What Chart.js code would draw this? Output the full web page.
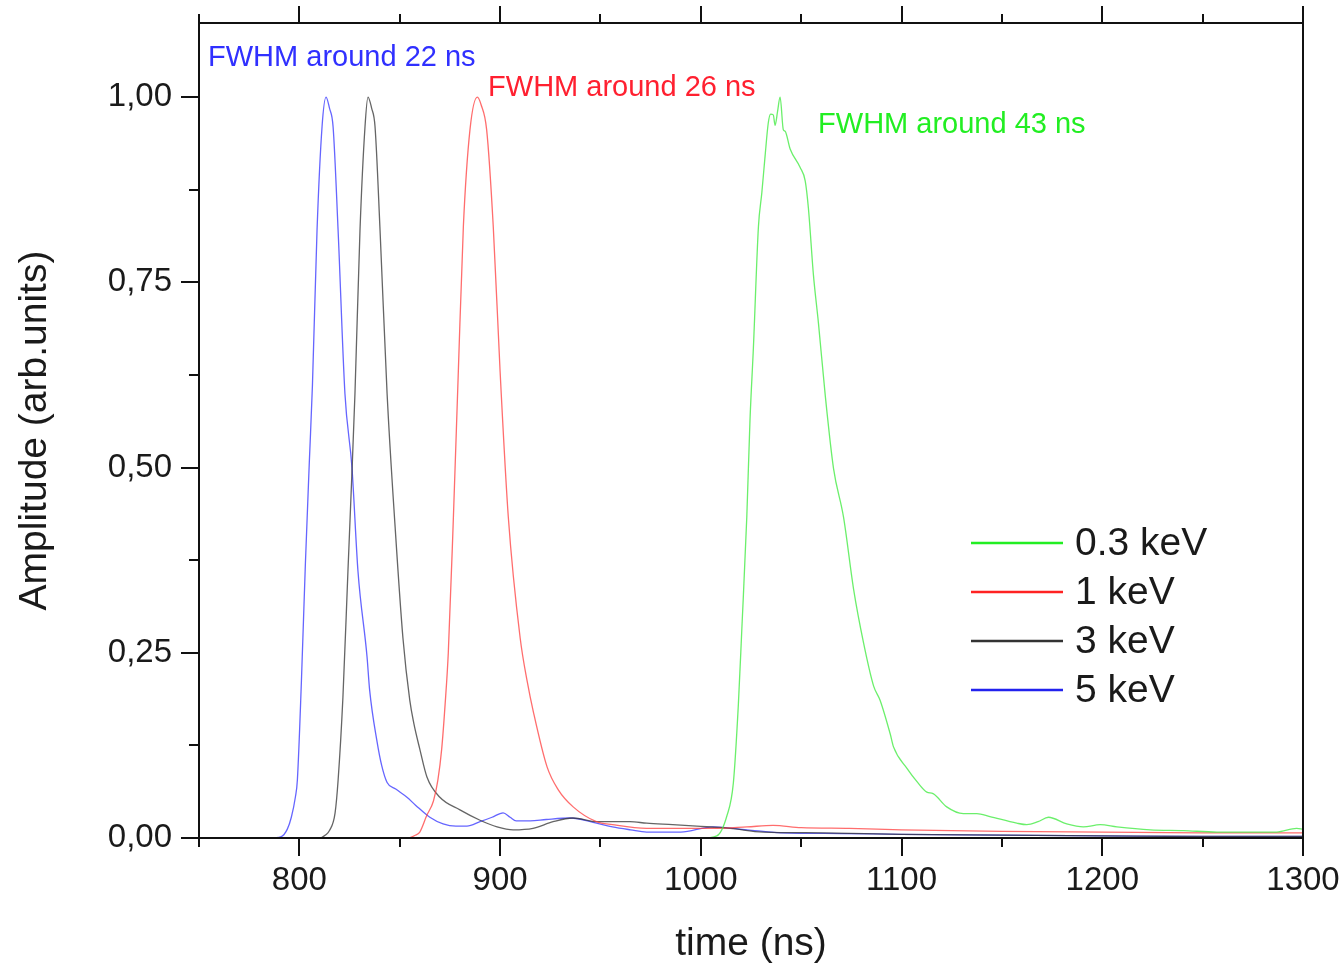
<!DOCTYPE html>
<html>
<head>
<meta charset="utf-8">
<script src="https://cdn.jsdelivr.net/npm/chart.js@4.4.1/dist/chart.umd.min.js"></script>
<style>
  body { margin: 0; background: #fff; }
</style>
</head>
<body>
<canvas id="pulseChart" width="1343" height="964"></canvas>
<script>
// series values (time in ns, amplitude normalised)
const seriesNames = ["0.3 keV", "1 keV", "3 keV", "5 keV"];

const greenTime = [750, 1000, 1008, 1013, 1016.2, 1018.7, 1020.4, 1022.9, 1024.5, 1026.2, 1028.7, 1030.4, 1032, 1033.6, 1034.8, 1036.1, 1037, 1038.2, 1039.5, 1041.1, 1042, 1044.5, 1049.5, 1052, 1053.6, 1056.1, 1058.6, 1062, 1066.1, 1071.1, 1076.1, 1081.1, 1086.1, 1089.3, 1094.4, 1096, 1102.7, 1108, 1112.6, 1115.7, 1122.5, 1130.8, 1137.5, 1144, 1157.4, 1162.4, 1168, 1173.2, 1182.3, 1190.6, 1199, 1207.3, 1223.9, 1240.4, 1257, 1273.6, 1286.9, 1296.8, 1300];
const greenAmp = [0, 0, 0.003, 0.03, 0.074, 0.18, 0.28, 0.433, 0.564, 0.662, 0.825, 0.871, 0.92, 0.965, 0.977, 0.976, 0.962, 0.98, 1.0, 0.956, 0.954, 0.93, 0.905, 0.887, 0.85, 0.76, 0.695, 0.597, 0.499, 0.433, 0.336, 0.263, 0.205, 0.186, 0.14, 0.123, 0.094, 0.075, 0.062, 0.06, 0.042, 0.033, 0.033, 0.029, 0.02, 0.018, 0.022, 0.028, 0.019, 0.015, 0.018, 0.015, 0.011, 0.01, 0.008, 0.008, 0.008, 0.013, 0.012];

const redTime = [750, 853.5, 858, 860, 863.4, 866.8, 869, 870.9, 872.6, 874.2, 876.7, 879.2, 881.7, 885, 888.7, 890.5, 893.3, 896.6, 900, 904.1, 910, 913.6, 916.6, 923.4, 929, 936.4, 948, 956, 973, 990, 1006, 1023, 1036, 1050, 1074, 1100, 1150, 1200, 1250, 1300];
const redAmp = [0, 0, 0.004, 0.008, 0.03, 0.05, 0.078, 0.12, 0.18, 0.25, 0.43, 0.63, 0.825, 0.956, 1.0, 0.99, 0.956, 0.825, 0.63, 0.433, 0.27, 0.21, 0.17, 0.096, 0.065, 0.042, 0.022, 0.018, 0.013, 0.013, 0.013, 0.015, 0.017, 0.014, 0.013, 0.011, 0.009, 0.008, 0.007, 0.007];

const blackTime = [750, 810, 813, 815, 817.8, 819.3, 821.7, 824.2, 826, 827.7, 830.2, 832.7, 834.2, 836, 837.7, 840.2, 843.7, 847.7, 851.6, 855, 857, 860, 863.6, 870, 880, 890, 898.5, 906.5, 916.4, 926.4, 936.3, 948.3, 964.7, 973, 986, 998, 1014.6, 1031, 1060, 1100, 1150, 1200, 1250, 1300];
const blackAmp = [0, 0, 0.004, 0.01, 0.034, 0.078, 0.19, 0.36, 0.48, 0.6, 0.82, 0.96, 1.0, 0.985, 0.96, 0.82, 0.6, 0.42, 0.27, 0.186, 0.155, 0.12, 0.082, 0.055, 0.038, 0.024, 0.015, 0.011, 0.013, 0.022, 0.027, 0.022, 0.022, 0.02, 0.018, 0.016, 0.013, 0.008, 0.007, 0.005, 0.004, 0.003, 0.002, 0.002];

const blueTime = [750, 785, 791, 794, 796, 798, 799, 801, 803, 805, 806.5, 808.8, 811.3, 813.3, 815, 816.8, 819.3, 822.7, 826.2, 829.2, 833.7, 835, 838.7, 841, 843.7, 848, 853.6, 858, 865, 871.6, 878, 883.5, 890, 896, 901.5, 905, 908, 915, 923, 935, 948, 956, 965, 973, 990, 1006, 1023, 1040, 1070, 1100, 1150, 1200, 1250, 1300];
const blueAmp = [0, 0, 0.002, 0.012, 0.028, 0.055, 0.078, 0.21, 0.37, 0.51, 0.61, 0.82, 0.96, 1.0, 0.985, 0.96, 0.82, 0.6, 0.5, 0.36, 0.245, 0.2, 0.13, 0.098, 0.075, 0.066, 0.055, 0.044, 0.028, 0.019, 0.016, 0.016, 0.022, 0.028, 0.034, 0.028, 0.023, 0.023, 0.025, 0.027, 0.02, 0.015, 0.011, 0.008, 0.008, 0.015, 0.011, 0.007, 0.006, 0.005, 0.004, 0.003, 0.002, 0.002];

// axis ticks
const xTickValues = [800, 900, 1000, 1100, 1200, 1300];
const xMinorValues = [750, 850, 950, 1050, 1150, 1250];
const yTickValues = [0, 0.25, 0.5, 0.75, 1.0];
const yMinorValues = [0.125, 0.375, 0.625, 0.875];

// FWHM notes (text, time, amplitude where the text starts)
const noteTexts = ["FWHM around 22 ns", "FWHM around 26 ns", "FWHM around 43 ns"];
const noteTimes = [754.5, 894, 1058.4];
const noteAmps = [1.053, 1.012, 0.962];

const lineColors = ["rgba(70,235,70,0.8)", "rgba(255,60,60,0.75)", "rgba(50,50,50,0.75)", "rgba(50,50,255,0.75)"];
const legendColors = ["#22ee22", "#ff2222", "#333333", "#2222ee"];
const noteColors = ["#3030ff", "#ff2030", "#22ee22"];

function toPoints(times, amps) {
  return times.map((t, i) => ({ x: t, y: amps[i] }));
}

const allSeries = [
  toPoints(greenTime, greenAmp),
  toPoints(redTime, redAmp),
  toPoints(blackTime, blackAmp),
  toPoints(blueTime, blueAmp),
];

const FONT = "'Liberation Sans', Arial, sans-serif";

const framePlugin = {
  id: "frame",
  afterDatasetsDraw(chart) {
    const ctx = chart.ctx;
    const area = chart.chartArea;
    const xs = chart.scales.x;
    const ys = chart.scales.y;
    ctx.save();
    ctx.strokeStyle = "#111";
    ctx.lineWidth = 2;
    ctx.strokeRect(area.left, area.top, area.right - area.left, area.bottom - area.top);

    ctx.beginPath();
    xTickValues.forEach((v) => {
      const px = Math.round(xs.getPixelForValue(v));
      ctx.moveTo(px, area.bottom); ctx.lineTo(px, area.bottom + 18);
      ctx.moveTo(px, area.top); ctx.lineTo(px, area.top - 17);
    });
    xMinorValues.forEach((v) => {
      const px = Math.round(xs.getPixelForValue(v));
      ctx.moveTo(px, area.bottom); ctx.lineTo(px, area.bottom + 9);
      ctx.moveTo(px, area.top); ctx.lineTo(px, area.top - 9);
    });
    yTickValues.forEach((v) => {
      const py = Math.round(ys.getPixelForValue(v));
      ctx.moveTo(area.left, py); ctx.lineTo(area.left - 18, py);
    });
    yMinorValues.forEach((v) => {
      const py = Math.round(ys.getPixelForValue(v));
      ctx.moveTo(area.left, py); ctx.lineTo(area.left - 10, py);
    });
    ctx.stroke();

    // notes
    ctx.font = "29px " + FONT;
    ctx.textBaseline = "middle";
    ctx.textAlign = "left";
    noteTexts.forEach((txt, i) => {
      ctx.fillStyle = noteColors[i];
      ctx.fillText(txt, xs.getPixelForValue(noteTimes[i]), ys.getPixelForValue(noteAmps[i]));
    });

    // legend
    const lx = area.left + 772;
    const ly = area.top + 520;
    ctx.font = "39px " + FONT;
    chart.data.datasets.forEach((ds, i) => {
      const y = ly + i * 49;
      ctx.strokeStyle = legendColors[i];
      ctx.lineWidth = 2.5;
      ctx.beginPath();
      ctx.moveTo(lx, y); ctx.lineTo(lx + 92, y);
      ctx.stroke();
      ctx.fillStyle = "#1a1a1a";
      ctx.fillText(ds.label, lx + 104, y + 1);
    });
    ctx.restore();
  },
};

new Chart(document.getElementById("pulseChart"), {
  type: "line",
  data: {
    datasets: allSeries.map((pts, i) => ({
      label: seriesNames[i],
      data: pts,
      borderColor: lineColors[i],
      borderWidth: 1.3,
      pointRadius: 0,
      fill: false,
      cubicInterpolationMode: "monotone",
    })),
  },
  options: {
    responsive: false,
    animation: false,
    devicePixelRatio: 1,
    layout: { padding: { top: 23, right: 40, left: 0, bottom: 0 } },
    plugins: { legend: { display: false }, tooltip: { enabled: false } },
    scales: {
      x: {
        type: "linear",
        min: 750,
        max: 1300,
        afterBuildTicks: (s) => { s.ticks = xTickValues.map((v) => ({ value: v })); },
        afterFit: (s) => { s.height = 126; s.paddingLeft = 0; s.paddingRight = 0; },
        grid: { display: false, drawTicks: false },
        border: { display: false },
        ticks: {
          padding: 23,
          color: "#1a1a1a",
          font: { size: 33, family: FONT },
          maxRotation: 0,
          callback: (v) => String(v),
        },
        title: {
          display: true,
          text: "time (ns)",
          color: "#1a1a1a",
          font: { size: 39, family: FONT, lineHeight: 1.0 },
          padding: { top: 0, bottom: 0 },
        },
      },
      y: {
        type: "linear",
        min: 0,
        max: 1.1,
        afterBuildTicks: (s) => { s.ticks = yTickValues.map((v) => ({ value: v })); },
        afterFit: (s) => { s.width = 199; s.paddingTop = 0; s.paddingBottom = 0; },
        grid: { display: false, drawTicks: false },
        border: { display: false },
        ticks: {
          padding: 27,
          color: "#1a1a1a",
          font: { size: 33, family: FONT },
          callback: (v) => v.toFixed(2).replace(".", ","),
        },
        title: {
          display: true,
          text: "Amplitude (arb.units)",
          color: "#1a1a1a",
          font: { size: 39, family: FONT },
          padding: { top: 12, bottom: 0 },
        },
      },
    },
  },
  plugins: [framePlugin],
});
</script>
</body>
</html>
